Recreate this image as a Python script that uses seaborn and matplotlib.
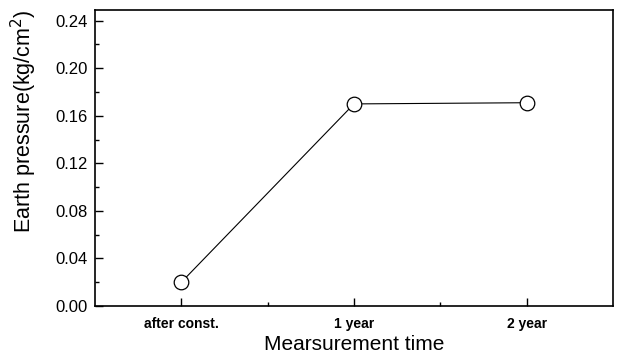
import matplotlib
matplotlib.use("Agg")
import matplotlib.pyplot as plt
import seaborn as sns
import pandas as pd
from matplotlib.ticker import MultipleLocator, FixedLocator, FormatStrFormatter

# Measured earth pressure at each survey time
periods = ["after const.", "1 year", "2 year"]
pressure = [0.020, 0.170, 0.171]

sns.set_theme(style="white")
plt.rcParams["font.family"] = ["Liberation Sans", "DejaVu Sans"]

df = pd.DataFrame({"pos": range(len(periods)), "pressure": pressure})

fig = plt.figure(figsize=(6.17, 3.63), dpi=100)
ax = fig.add_axes([95 / 617, 1 - 306 / 363, (613 - 95) / 617, (306 - 10) / 363])

sns.lineplot(data=df, x="pos", y="pressure", ax=ax, color="black", lw=0.8,
             marker="o", markersize=10.5, markerfacecolor="white",
             markeredgecolor="black", markeredgewidth=0.9, zorder=3)

ax.set_xlim(-0.5, 2.5)
ax.set_ylim(0, 0.249)
ax.xaxis.set_major_locator(FixedLocator(range(len(periods))))
ax.set_xticklabels(periods)
ax.xaxis.set_minor_locator(FixedLocator([0.5, 1.5]))
ax.yaxis.set_major_locator(MultipleLocator(0.04))
ax.yaxis.set_minor_locator(MultipleLocator(0.02))
ax.yaxis.set_major_formatter(FormatStrFormatter("%.2f"))

ax.tick_params(which="both", direction="in", color="black", labelcolor="black",
               bottom=True, left=True, top=False, right=False)
ax.tick_params(which="major", length=6, width=1)
ax.tick_params(which="minor", length=3, width=1)
ax.tick_params(axis="y", which="major", labelsize=12, pad=5)
ax.tick_params(axis="x", which="major", labelsize=10, pad=8)
for lbl in ax.get_xticklabels():
    lbl.set_fontweight("bold")

for sp in ax.spines.values():
    sp.set_color("black")
    sp.set_linewidth(1.2)

ax.set_xlabel("Mearsurement time", fontsize=15, labelpad=3, color="black")
ax.set_ylabel("Earth pressure(kg/cm$^2$)", fontsize=15.5, color="black")
ax.yaxis.set_label_coords(-0.108, 0.625)

fig.savefig("out.png", dpi=100, facecolor="white")
